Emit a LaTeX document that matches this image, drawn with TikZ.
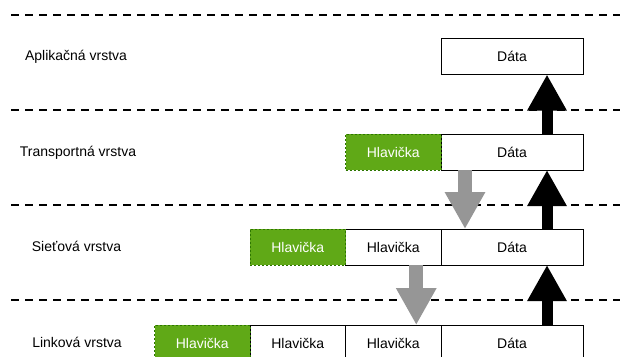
\documentclass[tikz,border=0pt]{standalone}
\usepackage{fontspec}
\setmainfont{Liberation Sans}
\usetikzlibrary{arrows.meta}
\definecolor{hdrgreen}{HTML}{60A917}
\definecolor{hdrline}{HTML}{2D7600}
\definecolor{arrgray}{RGB}{150,150,150}
\begin{document}
\begin{tikzpicture}[x=1pt,y=-1pt,font=\fontsize{14}{16}\selectfont,
  layerline/.style={line width=2pt, dash pattern=on 8pt off 6pt},
  databox/.style={draw=black, line width=1pt, fill=white, minimum width=142pt, minimum height=36pt, inner sep=0pt, outer sep=0pt},
  hdrbox/.style={draw=black, line width=1pt, fill=white, minimum width=95.5pt, minimum height=36pt, inner sep=0pt, outer sep=0pt},
  greenbox/.style={draw=hdrline, dash pattern=on 2pt off 2pt, line width=1pt, fill=hdrgreen, text=white, minimum width=95.5pt, minimum height=36pt, inner sep=0pt, outer sep=0pt},
  uparrow/.style={draw=black, line width=11pt, -{Triangle[width=37pt,length=36pt]}},
  downarrow/.style={draw=arrgray, line width=14pt, -{Triangle[width=38pt,length=37pt]}},
  lbl/.style={inner sep=0pt}]
\useasboundingbox (0,0) rectangle (620,356);
% layer separators
\foreach \yy in {15,110,205,300} \draw[layerline] (11,\yy) -- (620,\yy);
% labels
\node[lbl] (la) at (76,57) {Aplikačná vrstva};
\node[lbl] (lt) at (78,153) {Transportná vrstva};
\node[lbl] (ls) at (76.5,246) {Sieťová vrstva};
\node[lbl] (ll) at (77,342) {Linková vrstva};
% application
\node[databox] (d1) at (512,56.5) {Dáta};
% transport
\node[databox] (d2) at (512,152) {Dáta};
\node[greenbox] (g2) at (393.25,152) {Hlavička};
% network
\node[databox] (d3) at (512,247) {Dáta};
\node[hdrbox] (h3) at (393.25,247) {Hlavička};
\node[greenbox] (g3) at (297.75,247) {Hlavička};
% link
\node[databox] (d4) at (512,343) {Dáta};
\node[hdrbox] (h4b) at (393.25,343) {Hlavička};
\node[hdrbox] (h4a) at (297.75,343) {Hlavička};
\node[greenbox] (g4) at (202.25,343) {Hlavička};
% upward arrows
\draw[uparrow] ([xshift=35pt]d4.north) -- ([xshift=35pt]d3.south);
\draw[uparrow] ([xshift=35pt]d3.north) -- ([xshift=35pt]d2.south);
\draw[uparrow] ([xshift=35pt]d2.north) -- ([xshift=35pt]d1.south);
% downward arrows
\draw[downarrow] ([xshift=-47pt]d2.south) -- ([xshift=-47pt]d3.north);
\draw[downarrow] ([xshift=23pt]h3.south) -- ([xshift=23pt]h4b.north);
\end{tikzpicture}
\end{document}
